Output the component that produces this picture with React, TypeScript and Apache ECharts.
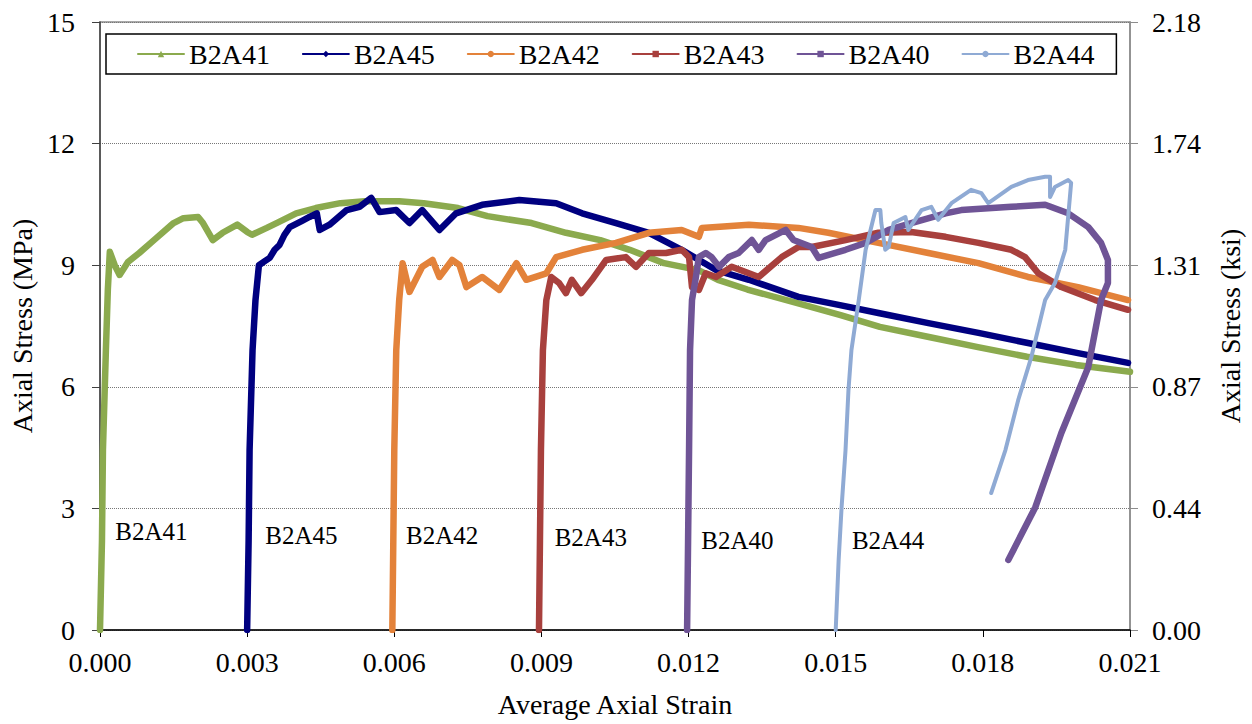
import React, { useEffect, useRef } from "react";
import * as echarts from "echarts";

const FONT = "Liberation Serif";

const seriesNames = ["B2A41", "B2A45", "B2A42", "B2A43", "B2A40", "B2A44"];
const seriesColors = ["#8BAA4E", "#000080", "#E3823A", "#A8403D", "#6F5496", "#8FAAD4"];
const seriesSymbols = ["triangle", "diamond", "circle", "rect", "rect", "circle"];
const legendSymbolSizes = [7, 7, 7, 7, 5, 5];

const ksiTickLabels = ["0.00", "0.44", "0.87", "1.31", "1.74", "2.18"];
const strainTicks = [0, 0.003, 0.006, 0.009, 0.012, 0.015, 0.018, 0.021];

// [average axial strain, axial stress (MPa)]
const B2A41 = [
  [0, 0], [0.00004, 2.2], [0.00006, 4.44], [0.00012, 6.9], [0.00016, 8.4], [0.0002, 9.33],
  [0.0003, 9.0], [0.0004, 8.76], [0.00057, 9.08], [0.0008, 9.3], [0.0011, 9.62], [0.0015, 10.04],
  [0.0017, 10.16], [0.002, 10.19], [0.0021, 10.04], [0.0023, 9.62], [0.0025, 9.8], [0.0028, 10.0],
  [0.003, 9.82], [0.0031, 9.75], [0.0034, 9.92], [0.0036, 10.04], [0.004, 10.28], [0.0044, 10.41],
  [0.0049, 10.53], [0.0054, 10.58], [0.0061, 10.58], [0.0066, 10.53], [0.0073, 10.41], [0.0079, 10.21],
  [0.0088, 10.04], [0.0095, 9.8], [0.0102, 9.62], [0.0108, 9.38], [0.0115, 9.05], [0.0122, 8.88],
  [0.0126, 8.64], [0.0132, 8.4], [0.0142, 8.07], [0.0151, 7.77], [0.0159, 7.48], [0.0169, 7.23],
  [0.0179, 6.98], [0.0189, 6.74], [0.0199, 6.54], [0.021, 6.37],
];
const B2A45 = [
  [0.003, 0], [0.00303, 2.2], [0.00305, 4.44], [0.00311, 6.9], [0.00317, 8.14], [0.00324, 9.0],
  [0.00336, 9.1], [0.00346, 9.18], [0.00356, 9.38], [0.00366, 9.5], [0.00376, 9.75], [0.00387, 9.94],
  [0.00413, 10.1], [0.00427, 10.19], [0.00442, 10.28], [0.00448, 9.87], [0.00468, 10.0], [0.00503, 10.36],
  [0.00529, 10.44], [0.00553, 10.66], [0.0057, 10.31], [0.00604, 10.36], [0.00631, 10.04], [0.00657, 10.36],
  [0.00692, 9.87], [0.00726, 10.28], [0.00779, 10.49], [0.00855, 10.61], [0.0093, 10.53], [0.00983, 10.28],
  [0.01052, 10.04], [0.01119, 9.8], [0.01186, 9.38], [0.01256, 8.88], [0.01323, 8.64], [0.01424, 8.22],
  [0.01506, 8.02], [0.01587, 7.82], [0.01689, 7.57], [0.01791, 7.33], [0.01892, 7.08], [0.01994, 6.83],
  [0.02096, 6.59],
];
const B2A42 = [
  [0.00596, 0], [0.00598, 2.2], [0.006, 4.44], [0.00604, 6.9], [0.0061, 8.14], [0.00617, 9.05],
  [0.00631, 8.34], [0.00657, 8.96], [0.00678, 9.13], [0.00692, 8.71], [0.00718, 9.13], [0.00733, 9.0],
  [0.00747, 8.46], [0.00779, 8.71], [0.00814, 8.39], [0.00849, 9.05], [0.00869, 8.64], [0.0091, 8.8],
  [0.0093, 9.2], [0.00983, 9.38], [0.01052, 9.55], [0.01119, 9.8], [0.01186, 9.87], [0.01221, 9.7],
  [0.01227, 9.92], [0.01323, 10.0], [0.01424, 9.92], [0.01485, 9.8], [0.01587, 9.55], [0.01689, 9.3],
  [0.01791, 9.05], [0.01892, 8.71], [0.01994, 8.46], [0.02096, 8.14],
];
const B2A43 = [
  [0.00895, 0], [0.00897, 2.2], [0.00899, 4.44], [0.00903, 6.9], [0.0091, 8.14], [0.0092, 8.71],
  [0.00936, 8.56], [0.0095, 8.31], [0.00962, 8.64], [0.00981, 8.31], [0.01003, 8.64], [0.01032, 9.13],
  [0.01072, 9.2], [0.01093, 8.96], [0.01119, 9.3], [0.01154, 9.3], [0.01186, 9.38], [0.01201, 9.2],
  [0.01207, 8.46], [0.01221, 8.39], [0.01235, 8.8], [0.01256, 8.71], [0.01288, 8.96], [0.01323, 8.8],
  [0.01343, 8.71], [0.0139, 9.2], [0.01424, 9.45], [0.01451, 9.45], [0.0152, 9.62], [0.01587, 9.8],
  [0.01654, 9.82], [0.01724, 9.7], [0.01791, 9.55], [0.01858, 9.38], [0.01886, 9.2], [0.01913, 8.8],
  [0.0196, 8.46], [0.02029, 8.14], [0.02096, 7.9],
];
const B2A40 = [
  [0.01197, 0], [0.01199, 2.2], [0.01201, 4.44], [0.01203, 6.9], [0.01207, 8.14], [0.01215, 8.71],
  [0.01221, 9.2], [0.01235, 9.3], [0.01247, 9.2], [0.01262, 8.96], [0.01282, 9.2], [0.01302, 9.3],
  [0.01329, 9.62], [0.01343, 9.38], [0.01357, 9.62], [0.01398, 9.87], [0.01414, 9.62], [0.01451, 9.45],
  [0.01465, 9.18], [0.0152, 9.38], [0.01561, 9.55], [0.01608, 9.87], [0.01654, 10.04], [0.01724, 10.28],
  [0.01756, 10.36], [0.01858, 10.44], [0.01927, 10.49], [0.01974, 10.28], [0.02015, 9.94], [0.02041, 9.55],
  [0.02055, 9.13], [0.02055, 8.56], [0.02041, 8.14], [0.02015, 6.49], [0.0196, 4.86], [0.01907, 3.03],
  [0.01852, 1.73],
];
const B2A44 = [
  [0.015, 0], [0.01506, 1.73], [0.01512, 3.03], [0.0152, 4.44], [0.01526, 5.92], [0.01532, 6.9],
  [0.01547, 8.14], [0.01561, 9.38], [0.01571, 9.87], [0.01581, 10.36], [0.01591, 10.36], [0.01593, 10.04],
  [0.01601, 9.38], [0.01608, 9.45], [0.01618, 10.04], [0.01642, 10.19], [0.01648, 9.87], [0.01675, 10.36],
  [0.01695, 10.44], [0.01709, 10.12], [0.01736, 10.53], [0.01776, 10.86], [0.01797, 10.78], [0.01811, 10.53],
  [0.01858, 10.93], [0.01892, 11.1], [0.01927, 11.18], [0.01937, 11.18], [0.01937, 10.68], [0.01947, 10.93],
  [0.01974, 11.1], [0.0198, 11.03], [0.01968, 9.38], [0.01947, 8.56], [0.01927, 8.14], [0.01899, 6.74],
  [0.01872, 5.67], [0.01846, 4.44], [0.01817, 3.38],
];
const seriesData = [B2A41, B2A45, B2A42, B2A43, B2A40, B2A44];

// in-plot specimen labels: [strain, stress] at left edge of text
const labelAnchors = [
  [0.0003, 2.42], [0.00336, 2.34], [0.00623, 2.34], [0.00926, 2.29], [0.01225, 2.22], [0.01532, 2.22],
];
const lineWidths = [6.5, 6.5, 6.5, 6.5, 6.5, 4];

export default function App() {
  const ref = useRef<HTMLDivElement>(null);
  useEffect(() => {
    if (!ref.current) return;
    const chart = echarts.init(ref.current, undefined, { renderer: "svg" });
    const txt = (size: number) => ({ fontFamily: FONT, fontSize: size, color: "#000", fontWeight: "normal" as const });
    const option: any = {
      animation: false,
      backgroundColor: "#ffffff",
      textStyle: { fontFamily: FONT },
      grid: {
        left: 99, right: 122, top: 22, bottom: 94,
        show: true, borderColor: "#8c8c8c", borderWidth: 1.5, backgroundColor: "transparent",
      },
      legend: {
        left: 106, top: 34,
        data: seriesNames.map((n, i) => ({ name: n, itemStyle: { color: seriesColors[i] } })),
        backgroundColor: "#ffffff",
        borderColor: "#000000", borderWidth: 1.5, borderRadius: 0,
        padding: [6, 22, 6, 31],
        itemGap: 32, itemWidth: 46, itemHeight: 8,
        lineStyle: { width: 2 },
        textStyle: txt(28),
      },
      xAxis: {
        type: "value", min: 0, max: 0.021, interval: 0.003,
        name: "Average Axial Strain", nameLocation: "middle", nameGap: 60,
        nameTextStyle: txt(28),
        axisLine: { show: true, lineStyle: { color: "#000", width: 1.5 } },
        axisTick: { show: true, inside: false, length: 7, lineStyle: { color: "#000" } },
        axisLabel: {
          margin: 18, ...txt(28),
          formatter: (v: number) => {
            const i = strainTicks.findIndex((t) => Math.abs(t - v) < 1e-9);
            return i >= 0 ? strainTicks[i].toFixed(3) : "";
          },
        },
        splitLine: { show: false },
      },
      yAxis: [
        {
          type: "value", min: 0, max: 15, interval: 3, position: "left",
          name: "Axial Stress (MPa)", nameLocation: "middle", nameGap: 64,
          nameTextStyle: txt(28),
          axisLine: { show: true, lineStyle: { color: "#404040", width: 1.5 } },
          axisTick: { show: true, inside: false, length: 8, lineStyle: { color: "#404040" } },
          axisLabel: { margin: 25, ...txt(28) },
          splitLine: { show: true, lineStyle: { color: "#777", width: 1, type: "dotted" } },
        },
        {
          type: "value", min: 0, max: 15, interval: 3, position: "right",
          name: "Axial Stress (ksi)", nameLocation: "middle", nameGap: 86,
          nameTextStyle: txt(28),
          axisLine: { show: true, lineStyle: { color: "#8c8c8c", width: 1.5 } },
          axisTick: { show: true, inside: false, length: 8, lineStyle: { color: "#8c8c8c" } },
          axisLabel: {
            margin: 22, ...txt(28),
            formatter: (v: number) => ksiTickLabels[Math.round(v / 3)] ?? "",
          },
          splitLine: { show: false },
        },
      ],
      series: seriesNames.map((name, i) => ({
        name,
        type: "line",
        data: seriesData[i],
        yAxisIndex: 0,
        showSymbol: false,
        symbol: seriesSymbols[i],
        symbolSize: legendSymbolSizes[i],
        color: seriesColors[i],
        lineStyle: { width: lineWidths[i], color: seriesColors[i], join: "round", cap: "round" },
        itemStyle: { color: seriesColors[i] },
        emphasis: { disabled: true },
        markPoint: {
          symbol: "rect",
          symbolSize: 1,
          itemStyle: { color: "rgba(0,0,0,0)" },
          label: {
            show: true, position: "right", distance: 0,
            formatter: name, ...txt(25),
          },
          data: [{ coord: labelAnchors[i] }],
        },
      })),
    };
    chart.setOption(option);
    return () => chart.dispose();
  }, []);
  return (
    <div
      ref={ref}
      style={{ position: "fixed", left: 0, top: 0, width: 1252, height: 724, background: "#fff" }}
    />
  );
}
